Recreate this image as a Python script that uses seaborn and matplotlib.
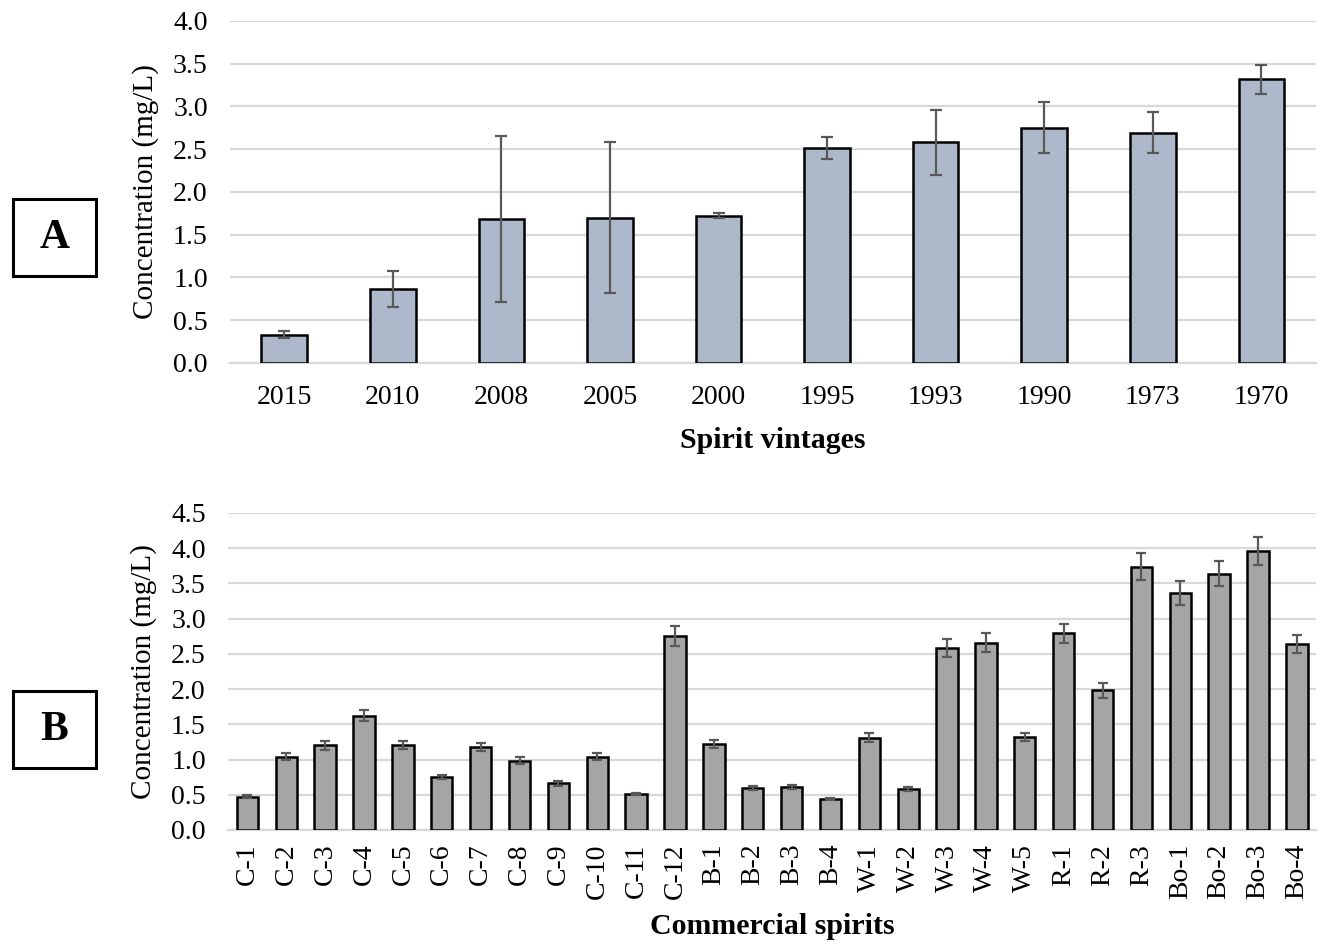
import matplotlib
matplotlib.use("Agg")
import matplotlib.pyplot as plt
import numpy as np
import pandas as pd
import seaborn as sns
from matplotlib.patches import Rectangle

# ---- data ----
vintages = ["2015", "2010", "2008", "2005", "2000", "1995", "1993", "1990", "1973", "1970"]
vint_conc = [0.33, 0.86, 1.68, 1.70, 1.72, 2.51, 2.58, 2.75, 2.69, 3.32]
vint_err = [0.04, 0.21, 0.97, 0.88, 0.03, 0.13, 0.38, 0.30, 0.24, 0.17]

spirits = ["C-1", "C-2", "C-3", "C-4", "C-5", "C-6", "C-7", "C-8", "C-9", "C-10",
           "C-11", "C-12", "B-1", "B-2", "B-3", "B-4", "W-1", "W-2", "W-3", "W-4",
           "W-5", "R-1", "R-2", "R-3", "Bo-1", "Bo-2", "Bo-3", "Bo-4"]
spirit_conc = [0.47, 1.04, 1.20, 1.62, 1.21, 0.75, 1.18, 0.98, 0.66, 1.04,
               0.51, 2.75, 1.22, 0.60, 0.61, 0.44, 1.31, 0.58, 2.58, 2.66,
               1.32, 2.79, 1.98, 3.74, 3.37, 3.64, 3.96, 2.64]
spirit_err = [0.02, 0.05, 0.06, 0.08, 0.06, 0.03, 0.06, 0.05, 0.03, 0.05,
              0.02, 0.14, 0.06, 0.03, 0.03, 0.02, 0.06, 0.03, 0.13, 0.13,
              0.06, 0.14, 0.10, 0.19, 0.17, 0.18, 0.20, 0.13]

sns.set_style("white")
plt.rcParams["font.family"] = ["Liberation Serif", "DejaVu Serif"]
plt.rcParams.update({"text.color": "black", "axes.labelcolor": "black",
                     "xtick.color": "black", "ytick.color": "black"})

GRID = "#d9d9d9"
ERR = "#595959"

fig = plt.figure(figsize=(13.24, 9.44), dpi=100)
axA = fig.add_axes([0.1737, 0.6155, 0.820, 0.3623])
axB = fig.add_axes([0.1722, 0.1208, 0.822, 0.3358])


def draw(ax, cats, vals, errs, color, width, ymax, xlabel, capsize, rot):
    df = pd.DataFrame({"cat": cats, "val": vals})
    sns.barplot(data=df, x="cat", y="val", ax=ax, color=color, width=width,
                errorbar=None, edgecolor="black", linewidth=1.8, saturation=1,
                zorder=3)
    ax.errorbar(np.arange(len(cats)), vals, yerr=errs, fmt="none",
                ecolor=ERR, elinewidth=1.6, capsize=capsize, capthick=1.6,
                zorder=4)
    ax.set_xlim(-0.5, len(cats) - 0.5)
    ax.set_ylim(0, ymax)
    ticks = np.arange(0, ymax + 0.01, 0.5)
    ax.set_yticks(ticks)
    ax.set_yticklabels([f"{v:.1f}" for v in ticks])
    ax.yaxis.grid(True, color=GRID, lw=1.6, zorder=0)
    ax.set_axisbelow(True)
    for s in ["top", "right", "left"]:
        ax.spines[s].set_visible(False)
    ax.spines["bottom"].set_color(GRID)
    ax.spines["bottom"].set_linewidth(1.6)
    ax.tick_params(axis="both", length=0, labelsize=20)
    ax.tick_params(axis="y", pad=16)
    ax.tick_params(axis="x", pad=16 if rot == 0 else 10, labelrotation=rot)
    ax.set_ylabel("Concentration (mg/L)", fontsize=21, labelpad=10)
    ax.set_xlabel(xlabel, fontsize=21.5, fontweight="bold",
                  labelpad=12 if rot == 0 else 10)


draw(axA, vintages, vint_conc, vint_err, "#adb9ca", 0.42, 4.0,
     "Spirit vintages", 4.5, 0)
draw(axB, spirits, spirit_conc, spirit_err, "#a5a5a5", 0.55, 4.5,
     "Commercial spirits", 3.8, 90)

# panel letters in boxes
for letter, y0, y1 in [("A", 199, 276), ("B", 691, 768)]:
    x0, x1 = 13, 96
    fig.patches.append(Rectangle((x0 / 1324, 1 - y1 / 944), (x1 - x0) / 1324,
                                 (y1 - y0) / 944, transform=fig.transFigure,
                                 fill=False, edgecolor="black", lw=2.2))
    fig.text((x0 + x1) / 2 / 1324, 1 - (y0 + y1) / 2 / 944, letter,
             ha="center", va="center", fontsize=30, fontweight="bold")

fig.savefig("out.png", dpi=100)
